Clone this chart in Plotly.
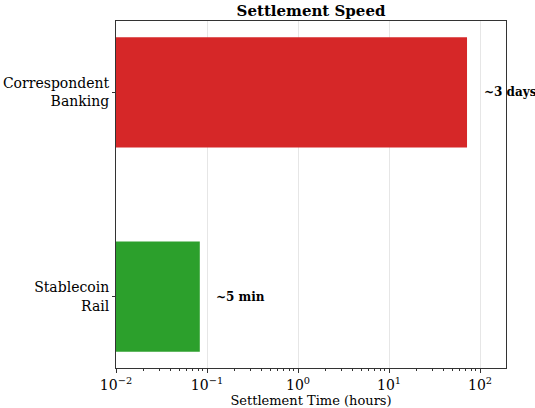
import math
import plotly.graph_objects as go

# Settlement time per payment rail, in hours
rails = ["Correspondent<br>Banking", "Stablecoin<br>Rail"]
hours = [72.0, 5.0 / 60.0]
labels = ["~3 days", "~5 min"]
colors = ["#d62728", "#2ca02c"]

tick_vals = [0.01, 0.1, 1, 10, 100]
tick_text = ["10<sup>−2</sup>", "10<sup>−1</sup>", "10<sup>0</sup>", "10<sup>1</sup>", "10<sup>2</sup>"]

FONT = "DejaVu Serif"
X_MAX = 193

# minor log ticks at 2..9 of each decade
minor_vals = [m * 10.0 ** e for e in range(-2, 3) for m in range(2, 10) if m * 10.0 ** e <= X_MAX]

fig = go.Figure(
    go.Bar(
        y=rails,
        x=hours,
        orientation="h",
        marker=dict(color=colors, line=dict(width=0)),
        width=0.54,
        hoverinfo="skip",
    )
)

# Value notes placed just past the end of each bar
for rail, h, lab in zip(rails, hours, labels):
    fig.add_annotation(
        x=math.log10(h * 1.45),
        y=rail,
        text=f"<b>{lab}</b>",
        showarrow=False,
        xanchor="left",
        yanchor="middle",
        font=dict(family=FONT, size=12, color="black"),
    )

fig.update_layout(
    width=535,
    height=408,
    margin=dict(l=116, r=29, t=21, b=40, autoexpand=False),
    paper_bgcolor="white",
    plot_bgcolor="white",
    showlegend=False,
    font=dict(family=FONT, color="black"),
    title=dict(
        text="<b>Settlement Speed</b>",
        xref="paper",
        x=0.5,
        xanchor="center",
        yref="container",
        y=1 - 10.5 / 408,
        yanchor="middle",
        font=dict(family=FONT, size=15, color="black"),
    ),
)

fig.update_xaxes(
    type="log",
    range=[-2, math.log10(X_MAX)],
    tickvals=tick_vals,
    ticktext=tick_text,
    tickfont=dict(family=FONT, size=14, color="black"),
    ticks="outside",
    ticklen=4,
    tickcolor="#333",
    showgrid=True,
    gridcolor="#e6e6e6",
    gridwidth=1,
    showline=True,
    linecolor="#333",
    linewidth=1,
    mirror=True,
    zeroline=False,
    automargin=False,
    minor=dict(tickvals=minor_vals, ticks="outside", ticklen=2, tickcolor="#333", showgrid=False),
    title=dict(text="Settlement Time (hours)", font=dict(family=FONT, size=13, color="black"), standoff=2),
)

fig.update_yaxes(
    categoryorder="array",
    categoryarray=rails[::-1],
    range=[-0.35, 1.35],
    tickfont=dict(family=FONT, size=14, color="black"),
    ticks="outside",
    ticklen=3,
    tickcolor="#333",
    showgrid=False,
    showline=True,
    linecolor="#333",
    linewidth=1,
    mirror=True,
    zeroline=False,
    automargin=False,
)

fig.write_html("out.html")
